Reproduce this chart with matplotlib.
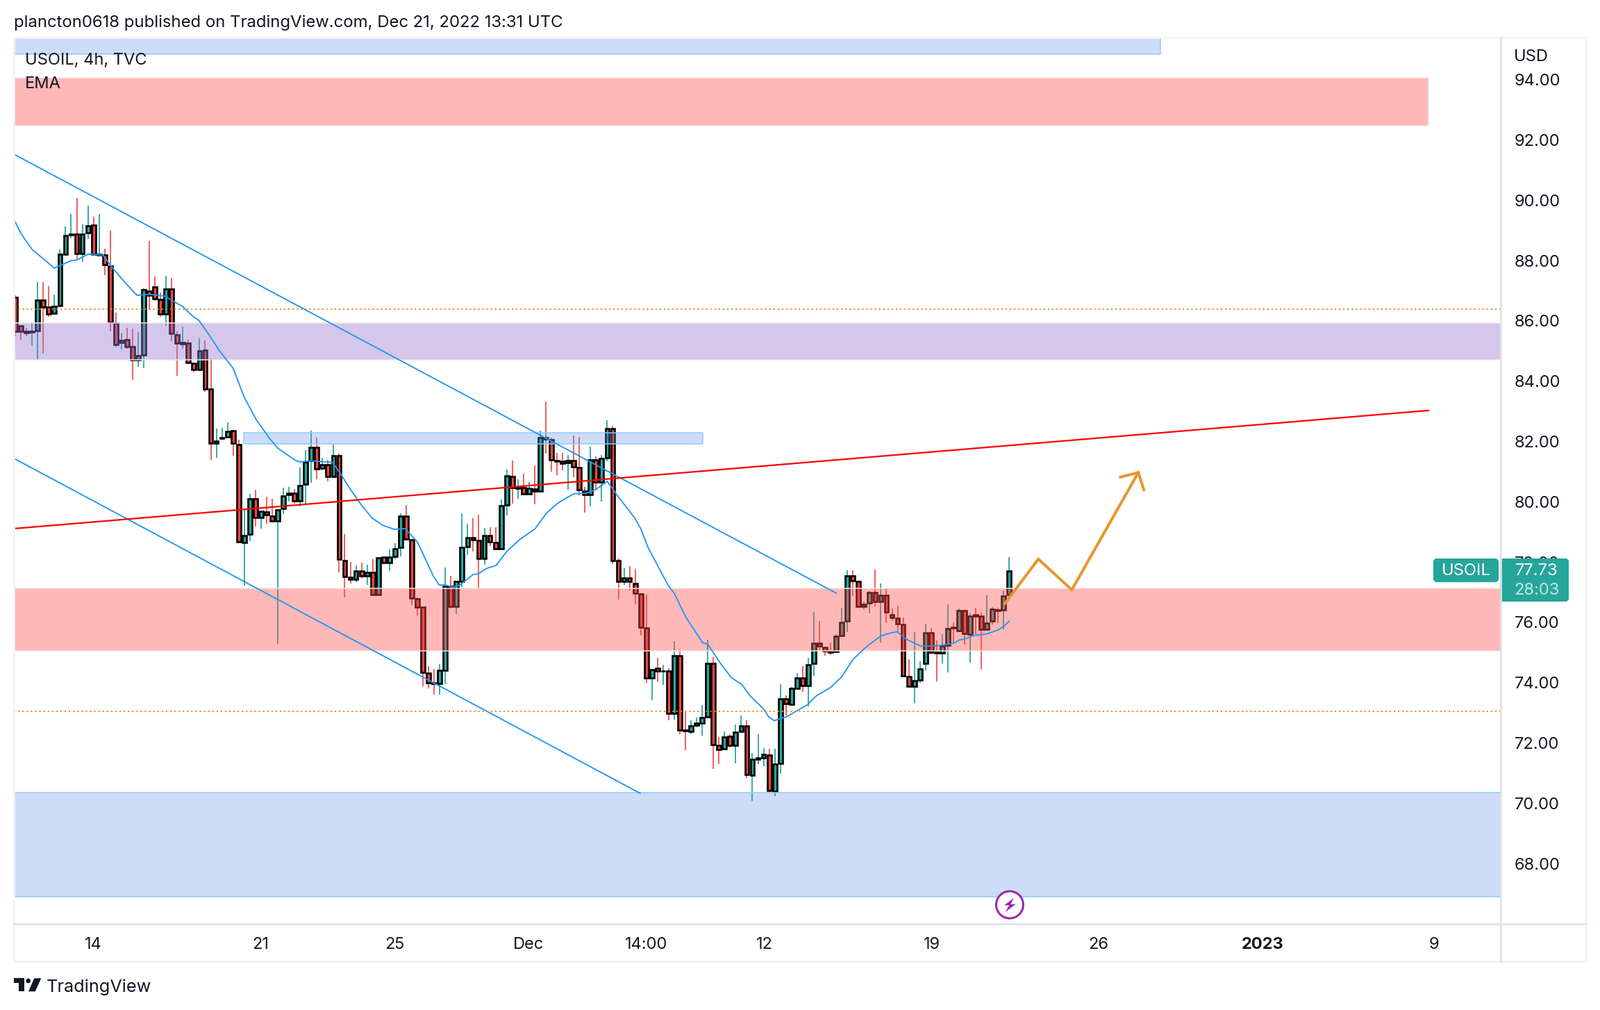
import matplotlib
matplotlib.use('Agg')
import matplotlib.pyplot as plt
from matplotlib.patches import Rectangle, Circle, Polygon, FancyBboxPatch

plt.rcParams['font.family'] = 'Inter'

# OHLC, one value per 4h candle
opens = [
    86.78,85.83,85.65,85.62,85.68,86.68,86.45,86.25,86.50,88.21,
    88.85,88.88,88.24,88.93,89.18,88.18,88.18,87.81,85.93,85.28,
    85.37,85.14,84.71,84.87,87.00,87.12,86.71,86.23,87.05,85.55,
    85.25,85.27,84.59,84.38,85.04,83.73,81.94,82.11,82.15,82.35,
    81.90,78.65,78.93,80.11,79.48,79.67,79.53,79.36,79.77,80.25,
    80.28,80.03,80.58,81.37,81.80,81.12,81.22,80.83,81.52,78.06,
    77.50,77.43,77.71,77.54,77.66,76.93,78.17,77.97,78.19,78.49,
    79.53,78.74,76.78,76.51,74.32,73.99,73.97,74.41,77.20,76.53,
    77.37,78.51,78.80,78.71,78.12,78.87,78.65,78.44,79.90,80.84,
    80.45,80.46,80.27,80.43,80.36,82.13,82.07,81.37,81.34,81.29,
    81.36,81.14,80.36,80.23,81.39,80.66,81.47,82.43,78.04,77.37,
    77.48,77.29,76.94,75.81,74.16,74.47,74.38,74.38,72.97,74.90,
    72.42,72.39,72.58,72.67,72.87,74.63,71.92,71.81,72.22,71.92,
    72.39,72.56,70.94,71.47,71.50,71.61,70.41,71.32,73.47,73.28,
    73.81,74.16,73.90,74.64,75.31,75.16,75.05,75.04,75.56,76.05,
    77.54,77.36,76.60,76.64,77.00,76.69,76.90,76.25,76.14,75.93,
    74.20,73.88,74.08,74.64,75.65,75.01,74.99,75.23,75.83,75.72,
    76.39,75.60,76.25,76.21,75.77,76.04,76.41,76.41,76.91,
]
closes = [
    85.65,85.65,85.60,85.65,86.68,86.47,86.22,86.49,88.20,88.83,
    88.88,88.24,88.88,89.15,88.22,88.20,87.86,85.95,85.21,85.35,
    85.15,84.71,84.84,87.03,86.85,86.74,86.23,87.05,85.58,85.26,
    85.28,84.62,84.38,85.02,83.75,81.94,82.02,82.14,82.33,81.94,
    78.68,78.89,80.11,79.48,79.68,79.57,79.36,79.73,80.20,80.29,
    80.03,80.54,81.33,81.80,81.10,81.22,80.83,81.52,78.09,77.53,
    77.43,77.71,77.54,77.66,76.91,78.15,77.97,78.17,78.45,79.53,
    78.76,76.80,76.51,74.33,73.99,73.97,74.41,77.20,76.53,77.37,
    78.49,78.80,78.74,78.12,78.87,78.68,78.44,79.88,80.86,80.46,
    80.48,80.27,80.44,80.36,82.13,82.09,81.40,81.35,81.28,81.36,
    81.17,80.39,80.23,81.39,80.66,81.44,82.43,78.04,77.37,77.48,
    77.35,76.97,75.84,74.16,74.44,74.38,74.39,72.97,74.90,72.42,
    72.40,72.56,72.66,72.84,74.63,71.94,71.78,72.19,71.92,72.36,
    72.56,70.95,71.46,71.50,71.62,70.43,71.30,73.47,73.30,73.80,
    74.16,73.90,74.60,75.31,75.22,75.06,75.02,75.54,76.01,77.54,
    77.38,76.54,76.52,77.00,76.68,76.90,76.35,76.15,75.95,74.22,
    73.88,74.07,74.46,75.65,75.02,74.99,75.22,75.79,75.81,76.39,
    75.62,76.21,76.21,75.77,75.98,76.43,76.38,76.88,77.70,
]
highs = [
    86.85,85.85,85.78,85.95,87.30,87.30,87.15,86.88,88.37,89.13,
    89.55,90.07,89.20,89.82,89.45,89.55,88.39,88.99,86.27,85.58,
    85.78,85.75,85.62,87.08,88.64,87.47,86.95,87.49,87.43,85.65,
    85.82,85.37,84.62,85.42,85.35,84.75,82.43,82.45,82.63,82.39,
    82.07,79.75,80.27,80.41,79.70,80.18,80.11,79.75,80.47,80.50,
    80.43,81.13,81.72,82.35,82.12,81.45,81.40,81.93,81.60,78.93,
    78.00,77.88,77.97,77.92,78.10,78.15,78.17,78.42,78.63,79.61,
    79.90,78.74,76.82,76.51,74.54,74.45,74.61,77.82,77.54,77.37,
    79.61,79.27,79.45,79.57,79.13,79.16,79.16,80.07,81.07,81.36,
    80.74,80.92,80.66,81.20,82.37,83.33,82.14,81.63,81.63,81.56,
    82.20,82.15,80.50,81.83,81.51,81.55,82.70,82.51,78.12,77.80,
    77.87,77.77,76.95,76.91,74.44,74.82,74.59,74.48,75.37,75.10,
    73.03,72.76,72.84,73.25,75.43,74.84,72.19,72.38,72.28,72.61,
    72.91,72.76,71.66,72.29,71.84,71.80,71.80,73.96,73.57,73.85,
    74.31,74.54,74.83,76.35,76.05,75.16,75.33,75.60,76.48,77.73,
    77.73,77.37,76.69,77.04,77.75,77.29,77.14,76.45,76.55,76.15,
    74.79,75.68,74.72,75.95,75.82,75.39,75.60,76.60,76.01,76.45,
    76.42,76.29,76.48,76.33,76.89,76.51,76.48,77.06,78.16,
]
lows = [
    85.50,85.38,85.50,85.17,84.72,84.92,86.13,86.25,86.50,88.21,
    88.75,88.03,87.95,88.72,88.20,88.18,87.52,85.65,85.15,85.05,
    85.07,84.03,84.47,84.43,86.37,86.67,86.13,85.84,85.33,84.17,
    85.08,84.62,84.30,84.38,83.65,81.39,81.45,82.07,82.15,81.53,
    78.68,77.23,78.70,79.18,79.10,79.27,79.35,75.28,79.60,80.00,
    79.93,79.85,79.95,80.63,80.75,81.05,80.68,80.80,77.67,76.82,
    77.29,77.33,77.45,77.25,76.91,76.93,77.97,77.70,78.10,78.19,
    78.76,76.58,76.23,73.88,73.82,73.60,73.60,73.95,76.47,76.27,
    77.17,78.23,78.34,77.10,77.92,78.54,78.42,78.41,79.55,79.95,
    80.11,80.21,80.27,79.92,80.36,81.60,81.01,80.89,81.05,80.39,
    80.81,80.21,79.64,79.85,80.43,80.01,81.34,77.94,76.76,77.24,
    77.07,76.60,75.56,74.00,73.42,74.04,73.93,72.74,72.78,72.30,
    71.77,72.28,72.52,72.25,72.87,71.13,71.31,71.81,71.85,71.32,
    72.39,70.85,70.07,71.31,71.24,70.34,70.25,70.98,72.91,73.28,
    73.77,73.70,73.22,74.23,75.08,74.89,74.92,75.04,75.52,75.68,
    76.88,76.54,76.42,76.31,76.54,75.33,75.98,76.05,75.69,74.22,
    73.85,73.33,74.00,74.40,74.95,74.04,74.64,74.35,75.33,75.68,
    75.27,74.66,75.60,74.43,75.75,75.93,75.98,75.77,76.91,
]

# EMA read at a set of candle positions
ema_x = [
    -0.2,1,3,7,10,11,13,15.7,17.2,20,21.8,24,26.8,30,32,32.8,34.1,36.6,39,41,
    43.2,45.5,47,50.1,51,52.8,56.8,58.3,59.9,62.1,63.9,65.8,67.8,69.8,72,74.9,
    75.9,76.9,78.4,79.6,82,82.9,84.4,86.1,88,90.2,93.1,95.1,97.1,100,102.2,104,
    106,107.8,110.9,112,113.3,115.8,117.1,118,120,123.1,124,126.2,128.2,130.1,
    131.6,134,134.9,135.9,138.1,141.8,143.5,146,148,150,152.1,153.1,155,156.8,
    157.9,159.5,162,165.1,168.1,169.1,170.1,171.5,174,176,177,178,
]
ema_y = [
    89.35,88.90,88.37,87.75,88.00,88.02,88.21,88.19,87.80,87.20,86.85,86.88,
    86.82,86.47,86.12,86.03,85.70,85.00,84.43,83.46,82.71,82.11,81.78,81.38,
    81.32,81.36,81.31,80.91,80.44,79.86,79.46,79.22,79.09,79.11,78.67,77.52,
    77.24,77.24,77.17,77.24,77.59,77.61,77.79,77.89,78.35,78.73,79.11,79.62,
    79.95,80.27,80.28,80.41,80.68,80.21,79.47,79.11,78.49,77.61,77.17,76.97,
    76.20,75.32,75.28,74.66,74.17,73.94,73.56,73.13,72.87,72.74,72.87,73.26,
    73.57,73.84,74.20,74.77,75.14,75.29,75.55,75.65,75.69,75.45,75.22,75.22,
    75.31,75.42,75.45,75.56,75.62,75.75,75.87,76.04,
]

# drawings on the chart, x as candle position, y as price
zone_x0 = [-0.3, -0.3, -0.3, -0.3, 40.9, -0.3]
zone_x1 = [205.1, 253.1, 266, 266, 123.05, 266]
zone_y0 = [94.85, 92.47, 84.72, 75.06, 81.91, 66.91]
zone_y1 = [95.60, 94.06, 85.93, 77.14, 82.28, 70.36]
zone_colors = ['#5b8feb', '#ff4e4e', '#9575cd', '#ff4e4e', '#5b8feb', '#5b8feb']

channel_up_x = [-0.26, 147.0]
channel_up_y = [91.53, 76.97]
channel_low_x = [-0.26, 111.9]
channel_low_y = [81.44, 70.33]
red_x = [-0.26, 253.1]
red_y = [79.11, 83.03]
dotted_y = [86.38, 73.05]
arrow_x = [177.2, 183.2, 189.2, 201.1]
arrow_y = [76.62, 78.10, 77.08, 80.97]
head_x = [197.9, 201.1, 202.1]
head_y = [80.82, 80.97, 80.40]

price_ticks = [68, 70, 72, 74, 76, 78, 80, 82, 84, 86, 88, 90, 92, 94]
time_ticks = [13.9, 43.9, 68, 91.9, 113, 134.1, 164.1, 194, 223.3, 254.1]
time_labels = ['14', '21', '25', 'Dec', '14:00', '12', '19', '26', '2023', '9']

TEAL = '#26a69a'
RED = '#ef5350'
BODY_RED = '#f2443f'
BLUE = '#2196f3'
TEXT = '#131722'
GRID = '#e0e3eb'
W, H = 2304, 1454

fig = plt.figure(figsize=(W / 100, H / 100), dpi=100, facecolor='white')
ax = fig.add_axes([19.5 / W, (H - 1330) / H, 2141.5 / W, 1276 / H])
ax.set_xlim(-0.32, 266)
ax.set_ylim(66.0, 95.4)
for s in ax.spines.values():
    s.set_visible(False)

# --- candles ---
idx = list(range(len(opens)))
up = [c >= o for o, c in zip(opens, closes)]
ax.vlines(idx, lows, highs, colors=[TEAL if u else RED for u in up], lw=1.3, zorder=2)
ax.bar(idx, [abs(c - o) for o, c in zip(opens, closes)], bottom=[min(o, c) for o, c in zip(opens, closes)],
       width=0.72, color=[TEAL if u else BODY_RED for u in up], edgecolor='black', linewidth=1.9, zorder=3)

# --- zones sit over the candles ---
for k in range(len(zone_x0)):
    ax.add_patch(Rectangle((zone_x0[k], zone_y0[k]), zone_x1[k] - zone_x0[k], zone_y1[k] - zone_y0[k],
                           facecolor=zone_colors[k], alpha=0.3 if zone_colors[k] == '#5b8feb' else 0.4,
                           edgecolor='none', zorder=4))
    edge = '#90caf9' if zone_colors[k] == '#5b8feb' else '#f5e4e4'
    ax.add_patch(Rectangle((zone_x0[k], zone_y0[k]), zone_x1[k] - zone_x0[k], zone_y1[k] - zone_y0[k],
                           fill=False, edgecolor=edge, lw=1.1, zorder=4))

# --- lines ---
ax.plot(ema_x, ema_y, color=BLUE, lw=1.35, zorder=5)
ax.plot(channel_up_x, channel_up_y, color=BLUE, lw=1.35, zorder=5)
ax.plot(channel_low_x, channel_low_y, color=BLUE, lw=1.35, zorder=5)
ax.plot(red_x, red_y, color='#ff0000', lw=1.6, zorder=5)
for y in dotted_y:
    ax.axhline(y, color='#f57c00', lw=1.25, ls=(0, (1.3, 2.2)), zorder=5)
ax.plot(arrow_x, arrow_y, color='#e8952f', lw=2.9, solid_joinstyle='miter', zorder=6)
ax.plot(head_x, head_y, color='#e8952f', lw=2.9, solid_joinstyle='miter', zorder=6)

# --- axes labels ---
ax.yaxis.tick_right()
ax.set_yticks(price_ticks, [f'{p:.2f}' for p in price_ticks])
ax.set_xticks(time_ticks, time_labels)
ax.tick_params(axis='both', length=0, labelsize=17, labelcolor=TEXT)
ax.tick_params(axis='y', pad=14)
ax.tick_params(axis='x', pad=14)
ax.get_xticklabels()[8].set_fontweight('bold')

# --- furniture in pixel coordinates ---
ov = fig.add_axes([0, 0, 1, 1], facecolor='none')
ov.set_xlim(0, W)
ov.set_ylim(H, 0)
ov.axis('off')

ov.add_patch(Rectangle((20, 54), 2264, 1330, fill=False, edgecolor='#f0f3fa', lw=2))
ov.plot([20, 2284], [1330, 1330], color=GRID, lw=2)
ov.plot([2161, 2161], [54, 1384], color=GRID, lw=2)

ov.text(20, 33, 'plancton0618 published on TradingView.com, Dec 21, 2022 13:31 UTC',
        fontsize=17.2, color=TEXT, va='center')
ov.text(36, 87, 'USOIL, 4h, TVC', fontsize=17, color=TEXT, va='center')
ov.text(36, 121, 'EMA', fontsize=17, color=TEXT, va='center')
ov.text(2180, 82, 'USD', fontsize=17, color=TEXT, va='center')

# price badge
ov.add_patch(FancyBboxPatch((2066, 806), 90, 30, boxstyle='round,pad=0,rounding_size=3',
                            mutation_aspect=1, facecolor=TEAL, edgecolor=TEAL, lw=3))
ov.add_patch(FancyBboxPatch((2162, 806), 95, 58, boxstyle='round,pad=0,rounding_size=3',
                            mutation_aspect=1, facecolor=TEAL, edgecolor=TEAL, lw=3))
ov.text(2111, 822, 'USOIL', fontsize=17, color='white', ha='center', va='center')
ov.text(2213, 822, '77.73', fontsize=17, color='white', ha='center', va='center')
ov.text(2213, 850, '28:03', fontsize=17, color='#c6e6e2', ha='center', va='center')

# lightning marker
ov.add_patch(Circle((1454, 1302.5), 19.5, facecolor='white', edgecolor='#9c27b0', lw=2.2))
ov.add_patch(Polygon([(1460, 1292.7), (1446, 1303.3), (1453.3, 1303.3), (1447.3, 1313.3),
                      (1462.7, 1301.7), (1455.3, 1301.7)], closed=True, facecolor='#9c27b0', edgecolor='none'))

# TradingView logo
ov.add_patch(Polygon([(20, 1408.3), (35, 1408.3), (35, 1427.3), (27.3, 1427.3), (27.3, 1415), (20, 1415)],
                     closed=True, facecolor=TEXT, edgecolor='none'))
ov.add_patch(Circle((40.7, 1412), 3.4, facecolor=TEXT, edgecolor='none'))
ov.add_patch(Polygon([(49.3, 1408.3), (59.3, 1408.3), (50.7, 1427.3), (41, 1427.3)],
                     closed=True, facecolor=TEXT, edgecolor='none'))
ov.text(67, 1421, 'TradingView', fontsize=18.2, color=TEXT, va='center')

fig.savefig('out.png', dpi=100)
